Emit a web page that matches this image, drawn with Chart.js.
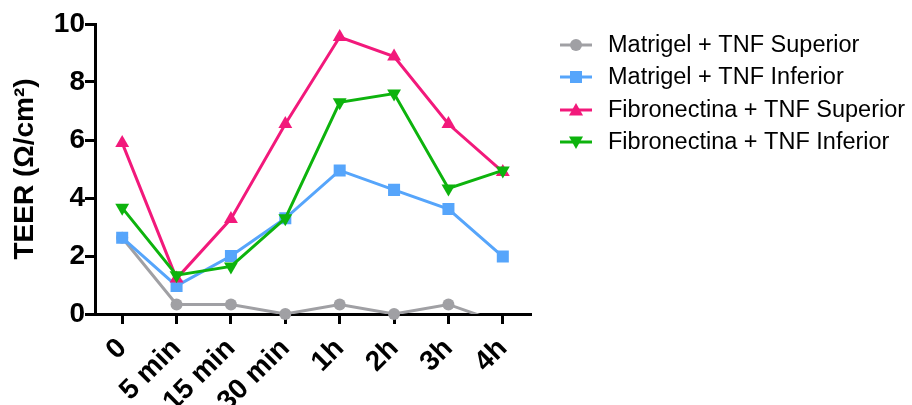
<!DOCTYPE html>
<html>
<head>
<meta charset="utf-8">
<script src="https://cdn.jsdelivr.net/npm/chart.js@4"></script>
<style>
  html, body { margin: 0; padding: 0; background: #fff; }
  #wrap { width: 912px; height: 405px; position: relative; }
</style>
</head>
<body>
<div id="wrap"><canvas id="c"></canvas></div>
<script>
const categories = ['0', '5 min', '15 min', '30 min', '1h', '2h', '3h', '4h'];
const matrigelSuperior = [2.63, 0.33, 0.33, 0, 0.33, 0, 0.33, -0.33];
const matrigelInferior = [2.63, 0.97, 2.0, 3.3, 4.95, 4.28, 3.62, 1.98];
const fibronectinaSuperior = [5.9, 1.22, 3.28, 6.55, 9.55, 8.88, 6.55, 4.9];
const fibronectinaInferior = [3.66, 1.34, 1.64, 3.3, 7.3, 7.6, 4.33, 4.95];
const yTicks = [0, 2, 4, 6, 8, 10];
const seriesNames = ['Matrigel + TNF Superior', 'Matrigel + TNF Inferior', 'Fibronectina + TNF Superior', 'Fibronectina + TNF Inferior'];

const GRAY = '#a0a0a4', BLUE = '#56a5fb', PINK = '#f2197b', GREEN = '#0db30d';
const FONT = '"Liberation Sans", Arial, sans-serif';

const legendItems = [
  { text: seriesNames[0], color: GRAY, shape: 'circle' },
  { text: seriesNames[1], color: BLUE, shape: 'square' },
  { text: seriesNames[2], color: PINK, shape: 'up' },
  { text: seriesNames[3], color: GREEN, shape: 'down' }
];

function marker(ctx, shape, x, y, color) {
  ctx.save();
  ctx.fillStyle = color;
  ctx.beginPath();
  if (shape === 'circle') {
    ctx.arc(x, y, 6, 0, Math.PI * 2);
  } else if (shape === 'square') {
    ctx.rect(x - 6, y - 6, 12, 12);
  } else if (shape === 'up') {
    ctx.moveTo(x, y - 7); ctx.lineTo(x + 7, y + 5.5); ctx.lineTo(x - 7, y + 5.5); ctx.closePath();
  } else {
    ctx.moveTo(x, y + 7); ctx.lineTo(x + 7, y - 5.5); ctx.lineTo(x - 7, y - 5.5); ctx.closePath();
  }
  ctx.fill();
  ctx.restore();
}

const legendPlugin = {
  id: 'customLegend',
  afterDraw(chart) {
    const ctx = chart.ctx;
    const rows = [45, 77, 110, 142];
    ctx.save();
    legendItems.forEach((it, i) => {
      const y = rows[i];
      ctx.strokeStyle = it.color;
      ctx.lineWidth = 3;
      ctx.beginPath();
      ctx.moveTo(560, y); ctx.lineTo(592, y);
      ctx.stroke();
      marker(ctx, it.shape, 576, y, it.color);
      ctx.fillStyle = '#000';
      ctx.font = '23.5px ' + FONT;
      ctx.textBaseline = 'middle';
      ctx.textAlign = 'left';
      ctx.fillText(it.text, 608, y + 1);
    });
    ctx.restore();
  }
};

const common = { borderWidth: 3, fill: false, tension: 0, pointBorderWidth: 0 };

new Chart(document.getElementById('c'), {
  type: 'line',
  data: {
    labels: categories,
    datasets: [
      Object.assign({}, common, {
        label: seriesNames[3], data: fibronectinaInferior, order: 0,
        borderColor: GREEN, backgroundColor: GREEN, pointBackgroundColor: GREEN,
        pointStyle: 'triangle', rotation: 180, pointRadius: 8
      }),
      Object.assign({}, common, {
        label: seriesNames[2], data: fibronectinaSuperior, order: 1,
        borderColor: PINK, backgroundColor: PINK, pointBackgroundColor: PINK,
        pointStyle: 'triangle', pointRadius: 8
      }),
      Object.assign({}, common, {
        label: seriesNames[1], data: matrigelInferior, order: 2,
        borderColor: BLUE, backgroundColor: BLUE, pointBackgroundColor: BLUE,
        pointStyle: 'rect', pointRadius: 8.5
      }),
      Object.assign({}, common, {
        label: seriesNames[0], data: matrigelSuperior, order: 3,
        borderColor: GRAY, backgroundColor: GRAY, pointBackgroundColor: GRAY,
        pointStyle: 'circle', pointRadius: 0, clip: { left: false, right: false, top: false, bottom: 0 }
      }),
      Object.assign({}, common, {
        label: seriesNames[0] + ' points', data: matrigelSuperior, order: 3,
        showLine: false, borderColor: GRAY, backgroundColor: GRAY, pointBackgroundColor: GRAY,
        pointStyle: 'circle', clip: false,
        pointRadius: (c) => (c.raw < 0 ? 0 : 6)
      })
    ]
  },
  options: {
    responsive: true,
    maintainAspectRatio: false,
    animation: false,
    layout: { padding: { left: 0, right: 382, top: 24, bottom: 0 } },
    plugins: { legend: { display: false }, tooltip: { enabled: false } },
    scales: {
      x: {
        type: 'category',
        offset: true,
        grid: { display: true, offset: false, drawOnChartArea: false, drawTicks: true, tickLength: 10, color: '#000', lineWidth: 3 },
        border: { display: true, color: '#000', width: 3 },
        ticks: { color: '#000', font: { family: FONT, size: 28, weight: 'bold' }, minRotation: 45, maxRotation: 45, padding: 8, autoSkip: false },
        afterFit(scale) { scale.height = 91; }
      },
      y: {
        min: 0, max: 10,
        afterBuildTicks(scale) { scale.ticks = yTicks.map(v => ({ value: v })); },
        grid: { display: true, drawOnChartArea: false, drawTicks: true, tickLength: 10, color: '#000', lineWidth: 3 },
        border: { display: true, color: '#000', width: 3 },
        ticks: { color: '#000', font: { family: FONT, size: 28, weight: 'bold' }, padding: 0 },
        title: { display: true, text: 'TEER (Ω/cm²)', color: '#000', font: { family: FONT, size: 28, weight: 'bold' }, padding: { top: 8, bottom: 0 } },
        afterFit(scale) { scale.width = 95; }
      }
    }
  },
  plugins: [legendPlugin]
});
</script>
</body>
</html>
